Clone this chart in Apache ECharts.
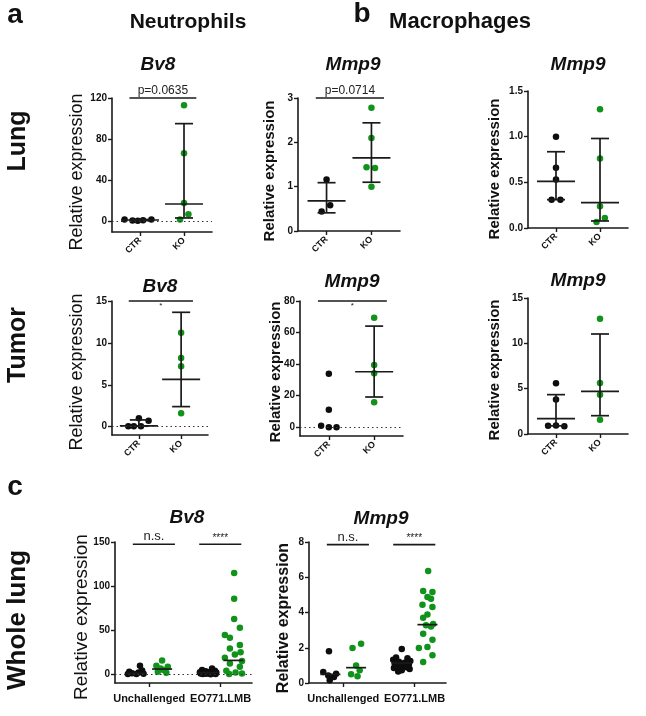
<!DOCTYPE html>
<html><head><meta charset="utf-8">
<script src="https://cdn.jsdelivr.net/npm/echarts@6/dist/echarts.min.js"></script>
<style>html,body{margin:0;padding:0;background:#fff}#c{width:646px;height:716px}</style>
</head><body><div id="c"></div>
<script>
// ---------- categories / tick labels ----------
const catAB = ['CTR', 'KO'];
const catC = ['Unchallenged', 'EO771.LMB'];

// ---------- a: Neutrophils, Lung, Bv8 ----------
const nLungBv8_CTR = [1.5, 0.5, 0.3, 0.8, 1.5];
const nLungBv8_CTR_jit = [-0.35, -0.17, -0.05, 0.07, 0.26];
const nLungBv8_KO = [113, 66, 17.5, 6.5, 1.5];
const nLungBv8_KO_jit = [0, 0, 0, 0.1, -0.09];
const nLungBv8_CTR_err = [1.0, 0.4, 1.5];      // centre, low, high
const nLungBv8_KO_err = [16.6, 3, 95];
const nLungBv8_ticks = [0, 40, 80, 120];
const nLungBv8_range = [-10.7, 120];

// ---------- a: Neutrophils, Lung, Mmp9 ----------
const nLungMmp9_CTR = [1.16, 0.58, 0.44];
const nLungMmp9_CTR_jit = [0, 0.08, -0.11];
const nLungMmp9_KO = [2.78, 2.1, 1.44, 1.42, 1.0];
const nLungMmp9_KO_jit = [0, 0, -0.11, 0.08, 0];
const nLungMmp9_CTR_err = [0.68, 0.41, 1.09];
const nLungMmp9_KO_err = [1.65, 1.1, 2.44];
const nLungMmp9_ticks = [0, 1, 2, 3];
const nLungMmp9_range = [0, 3];

// ---------- b: Macrophages, Lung, Mmp9 ----------
const mLungMmp9_CTR = [1.0, 0.66, 0.53, 0.31, 0.31];
const mLungMmp9_CTR_jit = [0, 0, 0, -0.1, 0.1];
const mLungMmp9_KO = [1.3, 0.76, 0.237, 0.11, 0.066];
const mLungMmp9_KO_jit = [0, 0, 0, 0.11, -0.08];
const mLungMmp9_CTR_err = [0.51, 0.31, 0.835];
const mLungMmp9_KO_err = [0.277, 0.077, 0.98];
const mLungMmp9_ticks = [0, 0.5, 1.0, 1.5];
const mLungMmp9_range = [0, 1.5];

// ---------- a: Neutrophils, Tumor, Bv8 ----------
const nTumBv8_CTR = [0.05, 0.05, 0.05, 1.0, 0.7];
const nTumBv8_CTR_jit = [-0.25, -0.12, 0.05, 0, 0.23];
const nTumBv8_KO = [11.2, 8.2, 7.2, 1.6];
const nTumBv8_KO_jit = [0, 0, 0, 0];
const nTumBv8_CTR_err = [0.1, 0.05, 0.8];
const nTumBv8_KO_err = [5.65, 2.39, 13.65];
const nTumBv8_ticks = [0, 5, 10, 15];
const nTumBv8_range = [-1, 15];

// ---------- a: Neutrophils, Tumor, Mmp9 ----------
const nTumMmp9_CTR = [34, 11.2, 1.0, 0, 0];
const nTumMmp9_CTR_jit = [0, 0, -0.17, 0, 0.17];
const nTumMmp9_KO = [69.4, 39.5, 34.2, 15.8];
const nTumMmp9_KO_jit = [0, 0, 0, 0];
const nTumMmp9_KO_err = [35.2, 19.2, 64.1];
const nTumMmp9_ticks = [0, 20, 40, 60, 80];
const nTumMmp9_range = [-5.5, 80];

// ---------- b: Macrophages, Tumor, Mmp9 ----------
const mTumMmp9_CTR = [5.6, 3.8, 0.9, 0.95, 0.85];
const mTumMmp9_CTR_jit = [0, 0, -0.18, 0, 0.19];
const mTumMmp9_KO = [12.72, 5.63, 4.34, 1.58];
const mTumMmp9_KO_jit = [0, 0, 0, 0];
const mTumMmp9_CTR_err = [1.69, 0.9, 4.34];
const mTumMmp9_KO_err = [4.71, 2.02, 11.03];
const mTumMmp9_ticks = [0, 5, 10, 15];
const mTumMmp9_range = [0, 15];

// ---------- c: Whole lung, Bv8 ----------
const wBv8_UnchCTR = [9.8, 4.5, 3, 2, 1.2, 0.8, 0.5, 0.3];
const wBv8_UnchCTR_jit = [0.05, 0.08, -0.1, 0.03, -0.06, 0.1, -0.12, 0];
const wBv8_UnchKO = [15.8, 9.8, 8.5, 6.5, 4.9, 3, 1.9];
const wBv8_UnchKO_jit = [0, -0.08, 0.08, -0.02, 0.02, -0.06, 0.06];
const wBv8_EOCTR = [6.5, 5, 4, 3.5, 3, 2.5, 2.2, 2, 1.5, 1.2, 1, 0.8, 0.5, 0.3, 0.1];
const wBv8_EOCTR_jit = [0.06, -0.08, 0.1, -0.03, 0.04, -0.11, 0.12, -0.06, 0.02, 0.08, -0.1, -0.02, 0.11, -0.07, 0.04];
const wBv8_EOKO = [115, 85.6, 62.6, 52.8, 44.5, 41.5, 33.2, 29.4, 25, 22.6, 18.8, 15, 12.4, 8.7, 4.1, 2, 1, 0.5];
const wBv8_EOKO_jit = [0.01, 0.01, 0.01, 0.09, -0.12, -0.05, 0.09, -0.05, 0.1, 0.02, -0.12, 0.12, -0.05, 0.09, -0.1, 0.03, 0.12, -0.06];
const wBv8_medians = [1.2, 6, 2, 15.8];
const wBv8_ticks = [0, 50, 100, 150];
const wBv8_range = [-9.8, 150];

// ---------- c: Whole lung, Mmp9 ----------
const wMmp9_UnchCTR = [1.8, 0.62, 0.53, 0.43, 0.34, 0.15];
const wMmp9_UnchCTR_jit = [-0.02, -0.1, 0.08, -0.03, 0.05, -0.01];
const wMmp9_UnchKO = [2.23, 1.98, 1.0, 0.72, 0.49, 0.38];
const wMmp9_UnchKO_jit = [0.07, -0.05, 0, 0.05, -0.07, 0.02];
const wMmp9_EOCTR = [1.93, 1.45, 1.4, 1.32, 1.25, 1.2, 1.15, 1.1, 1.05, 1.0, 0.95, 0.9, 0.85, 0.8, 0.72, 0.65];
const wMmp9_EOCTR_jit = [0, -0.08, 0.08, -0.12, 0.12, -0.04, 0.04, -0.1, 0.1, 0, -0.07, 0.07, -0.11, 0.11, 0, -0.05];
const wMmp9_EOKO = [6.35, 5.22, 5.16, 4.88, 4.78, 4.44, 4.31, 3.89, 3.7, 3.35, 3.27, 3.2, 2.8, 2.46, 2.04, 1.98, 1.57, 1.19];
const wMmp9_EOKO_jit = [0.01, -0.06, 0.07, 0, 0.05, -0.07, 0.07, 0, -0.06, 0.08, -0.02, 0.05, -0.06, 0.07, 0, -0.12, 0.07, -0.06];
const wMmp9_medians = [0.49, 0.87, 1.13, 3.31];
const wMmp9_ticks = [0, 2, 4, 6, 8];
const wMmp9_range = [0, 8];

// group positions on the x scale
const posAB = [0, 1];
const posC = [-0.18, 0.18, 0.82, 1.18];

// ---------- rendering ----------
const FONT = 'Liberation Sans, Arial, sans-serif';
const BLACK = '#0d0d0d', GREEN = '#11921a', AX = '#1a1a1a';

const opt = { animation: false, backgroundColor: '#fff', grid: [], xAxis: [], yAxis: [], series: [], graphic: [] };

function errRender(params, api) {
  const x = api.value(0), c = api.value(1), lo = api.value(2), hi = api.value(3);
  const pc = api.coord([x, c]), pl = api.coord([x, lo]), ph = api.coord([x, hi]);
  const st = { stroke: AX, lineWidth: 1.7 };
  const w1 = 19, w2 = 9;
  return { type: 'group', children: [
    { type: 'line', shape: { x1: pl[0], y1: pl[1], x2: ph[0], y2: ph[1] }, style: st },
    { type: 'line', shape: { x1: pc[0] - w1, y1: pc[1], x2: pc[0] + w1, y2: pc[1] }, style: st },
    { type: 'line', shape: { x1: ph[0] - w2, y1: ph[1], x2: ph[0] + w2, y2: ph[1] }, style: st },
    { type: 'line', shape: { x1: pl[0] - w2, y1: pl[1], x2: pl[0] + w2, y2: pl[1] }, style: st }
  ]};
}
function medRender(params, api) {
  const p = api.coord([api.value(0), api.value(1)]);
  return { type: 'line', shape: { x1: p[0] - 10, y1: p[1], x2: p[0] + 10, y2: p[1] }, style: { stroke: AX, lineWidth: 1.7 } };
}
function bracketRender(text, fs, below) {
  return function (params, api) {
    const a = api.coord([api.value(0), api.value(2)]), b = api.coord([api.value(1), api.value(2)]);
    return { type: 'group', children: [
      { type: 'line', shape: { x1: a[0], y1: a[1], x2: b[0], y2: b[1] }, style: { stroke: AX, lineWidth: 1.6 } },
      { type: 'text', style: { text: text, x: (a[0] + b[0]) / 2, y: below ? a[1] + 1 : a[1] - 1, align: 'center',
          verticalAlign: below ? 'top' : 'bottom', fontFamily: FONT, fontSize: fs, fill: '#222' } }
    ]};
  };
}

function addPanel(p) {
  const i = opt.grid.length;
  opt.grid.push(Object.assign({ containLabel: false }, p.grid));
  opt.xAxis.push({ gridIndex: i, type: 'value', min: p.xr[0], max: p.xr[1],
    axisLine: { show: true, onZero: false, lineStyle: { color: AX, width: 1.6 } },
    axisTick: { show: true, customValues: [0, 1], length: 4, lineStyle: { color: AX, width: 1.4 } },
    axisLabel: { customValues: [0, 1], formatter: v => p.cats[Math.round(v)], rotate: p.rot, margin: p.xm,
      fontFamily: FONT, fontWeight: 'bold', fontSize: p.xfs, color: '#111' },
    splitLine: { show: false } });
  opt.yAxis.push({ gridIndex: i, type: 'value', min: p.yr[0], max: p.yr[1],
    axisLine: { show: true, onZero: false, lineStyle: { color: AX, width: 1.6 } },
    axisTick: { show: true, customValues: p.ticks, length: 4, lineStyle: { color: AX, width: 1.4 } },
    axisLabel: { customValues: p.ticks, formatter: p.fmt || (v => String(v)), margin: 5,
      fontFamily: FONT, fontWeight: 'bold', fontSize: 10, color: '#111' },
    splitLine: { show: false } });
  p.groups.forEach((g, gi) => {
    const s = { type: 'scatter', xAxisIndex: i, yAxisIndex: i, symbolSize: 6.5, z: 2,
      itemStyle: { color: g.color, opacity: 1 }, data: g.vals.map((v, k) => [g.x + g.jit[k], v]) };
    if (p.zero && gi === 0) {
      s.markLine = { silent: true, symbol: ['none', 'none'], label: { show: false },
        lineStyle: { type: [1.5, 3], color: '#333', width: 1.1 }, data: [{ yAxis: 0 }] };
    }
    opt.series.push(s);
    if (g.err) opt.series.push({ type: 'custom', xAxisIndex: i, yAxisIndex: i, z: 3, clip: false,
      encode: { x: 0, y: [1, 2, 3] }, data: [[g.x].concat(g.err)], renderItem: errRender });
    if (g.med != null) opt.series.push({ type: 'custom', xAxisIndex: i, yAxisIndex: i, z: 3, clip: false,
      encode: { x: 0, y: 1 }, data: [[g.x, g.med]], renderItem: medRender });
  });
  p.brackets.forEach(b => {
    opt.series.push({ type: 'custom', xAxisIndex: i, yAxisIndex: i, z: 3, clip: false,
      encode: { x: [0, 1], y: 2 }, data: [[b.x1, b.x2, b.y]], renderItem: bracketRender(b.text, b.fs, b.below) });
  });
}

const xrAB = [-0.636, 1.636], xrC = [-0.48, 1.44];
const f1 = v => v.toFixed(1);

addPanel({ grid: { left: 112, top: 98, width: 100, height: 134 }, xr: xrAB, cats: catAB, rot: 45, xm: 7, xfs: 9,
  yr: nLungBv8_range, ticks: nLungBv8_ticks, zero: true,
  groups: [
    { x: posAB[0], vals: nLungBv8_CTR, jit: nLungBv8_CTR_jit, color: BLACK, err: nLungBv8_CTR_err },
    { x: posAB[1], vals: nLungBv8_KO, jit: nLungBv8_KO_jit, color: GREEN, err: nLungBv8_KO_err }],
  brackets: [{ x1: -0.24, x2: 1.28, y: 120, text: 'p=0.0635', fs: 12 }] });

addPanel({ grid: { left: 298, top: 98, width: 102, height: 133 }, xr: xrAB, cats: catAB, rot: 45, xm: 7, xfs: 9,
  yr: nLungMmp9_range, ticks: nLungMmp9_ticks,
  groups: [
    { x: posAB[0], vals: nLungMmp9_CTR, jit: nLungMmp9_CTR_jit, color: BLACK, err: nLungMmp9_CTR_err },
    { x: posAB[1], vals: nLungMmp9_KO, jit: nLungMmp9_KO_jit, color: GREEN, err: nLungMmp9_KO_err }],
  brackets: [{ x1: -0.24, x2: 1.28, y: 3, text: 'p=0.0714', fs: 12 }] });

addPanel({ grid: { left: 528, top: 91, width: 100, height: 137 }, xr: xrAB, cats: catAB, rot: 45, xm: 7, xfs: 9,
  yr: mLungMmp9_range, ticks: mLungMmp9_ticks, fmt: f1,
  groups: [
    { x: posAB[0], vals: mLungMmp9_CTR, jit: mLungMmp9_CTR_jit, color: BLACK, err: mLungMmp9_CTR_err },
    { x: posAB[1], vals: mLungMmp9_KO, jit: mLungMmp9_KO_jit, color: GREEN, err: mLungMmp9_KO_err }],
  brackets: [] });

addPanel({ grid: { left: 112, top: 301, width: 96, height: 134 }, xr: xrAB, cats: catAB, rot: 45, xm: 7, xfs: 9,
  yr: nTumBv8_range, ticks: nTumBv8_ticks, zero: true,
  groups: [
    { x: posAB[0], vals: nTumBv8_CTR, jit: nTumBv8_CTR_jit, color: BLACK, err: nTumBv8_CTR_err },
    { x: posAB[1], vals: nTumBv8_KO, jit: nTumBv8_KO_jit, color: GREEN, err: nTumBv8_KO_err }],
  brackets: [{ x1: -0.24, x2: 1.28, y: 15, text: '*', fs: 8, below: true }] });

addPanel({ grid: { left: 300, top: 301, width: 103, height: 135 }, xr: xrAB, cats: catAB, rot: 45, xm: 7, xfs: 9,
  yr: nTumMmp9_range, ticks: nTumMmp9_ticks, zero: true,
  groups: [
    { x: posAB[0], vals: nTumMmp9_CTR, jit: nTumMmp9_CTR_jit, color: BLACK },
    { x: posAB[1], vals: nTumMmp9_KO, jit: nTumMmp9_KO_jit, color: GREEN, err: nTumMmp9_KO_err }],
  brackets: [{ x1: -0.24, x2: 1.28, y: 80, text: '*', fs: 8, below: true }] });

addPanel({ grid: { left: 528, top: 298, width: 100, height: 136 }, xr: xrAB, cats: catAB, rot: 45, xm: 7, xfs: 9,
  yr: mTumMmp9_range, ticks: mTumMmp9_ticks,
  groups: [
    { x: posAB[0], vals: mTumMmp9_CTR, jit: mTumMmp9_CTR_jit, color: BLACK, err: mTumMmp9_CTR_err },
    { x: posAB[1], vals: mTumMmp9_KO, jit: mTumMmp9_KO_jit, color: GREEN, err: mTumMmp9_KO_err }],
  brackets: [] });

addPanel({ grid: { left: 115, top: 542, width: 137, height: 141 }, xr: xrC, cats: catC, rot: 0, xm: 10, xfs: 11,
  yr: wBv8_range, ticks: wBv8_ticks, zero: true,
  groups: [
    { x: posC[0], vals: wBv8_UnchCTR, jit: wBv8_UnchCTR_jit, color: BLACK, med: wBv8_medians[0] },
    { x: posC[1], vals: wBv8_UnchKO, jit: wBv8_UnchKO_jit, color: GREEN, med: wBv8_medians[1] },
    { x: posC[2], vals: wBv8_EOCTR, jit: wBv8_EOCTR_jit, color: BLACK, med: wBv8_medians[2] },
    { x: posC[3], vals: wBv8_EOKO, jit: wBv8_EOKO_jit, color: GREEN, med: wBv8_medians[3] }],
  brackets: [{ x1: -0.23, x2: 0.36, y: 147.5, text: 'n.s.', fs: 13 }, { x1: 0.7, x2: 1.29, y: 147.5, text: '****', fs: 10 }] });

addPanel({ grid: { left: 309, top: 542, width: 137, height: 141 }, xr: xrC, cats: catC, rot: 0, xm: 10, xfs: 11,
  yr: wMmp9_range, ticks: wMmp9_ticks,
  groups: [
    { x: posC[0], vals: wMmp9_UnchCTR, jit: wMmp9_UnchCTR_jit, color: BLACK, med: wMmp9_medians[0] },
    { x: posC[1], vals: wMmp9_UnchKO, jit: wMmp9_UnchKO_jit, color: GREEN, med: wMmp9_medians[1] },
    { x: posC[2], vals: wMmp9_EOCTR, jit: wMmp9_EOCTR_jit, color: BLACK, med: wMmp9_medians[2] },
    { x: posC[3], vals: wMmp9_EOKO, jit: wMmp9_EOKO_jit, color: GREEN, med: wMmp9_medians[3] }],
  brackets: [{ x1: -0.23, x2: 0.36, y: 7.85, text: 'n.s.', fs: 13 }, { x1: 0.7, x2: 1.29, y: 7.85, text: '****', fs: 10 }] });

// ---------- text labels ----------
function txt(t, x, y, fs, weight, style, rot) {
  opt.graphic.push({ type: 'text', x: x, y: y, rotation: rot || 0, silent: true,
    style: { text: t, align: 'center', verticalAlign: 'middle', fontFamily: FONT, fontSize: fs,
      fontWeight: weight || 'normal', fontStyle: style || 'normal', fill: '#111' } });
}
const R = Math.PI / 2;
txt('a', 15, 15, 28, 'bold');
txt('Neutrophils', 188, 22, 21, 'bold');
txt('b', 362, 14, 28, 'bold');
txt('Macrophages', 460, 22, 22, 'bold');
txt('c', 15, 487, 28, 'bold');
txt('Lung', 18, 141, 25, 'bold', 'normal', R);
txt('Tumor', 18, 345, 25, 'bold', 'normal', R);
txt('Whole lung', 18, 620, 26, 'bold', 'normal', R);

txt('Bv8', 158, 65, 19, 'bold', 'italic');
txt('Mmp9', 353, 65, 19, 'bold', 'italic');
txt('Mmp9', 578, 65, 19, 'bold', 'italic');
txt('Bv8', 160, 287, 19, 'bold', 'italic');
txt('Mmp9', 352, 282, 19, 'bold', 'italic');
txt('Mmp9', 578, 281, 19, 'bold', 'italic');
txt('Bv8', 187, 518, 19, 'bold', 'italic');
txt('Mmp9', 381, 519, 19, 'bold', 'italic');

txt('Relative expression', 77.5, 172, 18, 'normal', 'normal', R);
txt('Relative expression', 77.5, 372, 18, 'normal', 'normal', R);
txt('Relative expression', 81.5, 617, 19, 'normal', 'normal', R);
txt('Relative expression', 270, 171, 15, 'bold', 'normal', R);
txt('Relative expression', 495, 169, 15, 'bold', 'normal', R);
txt('Relative expression', 276, 372, 15, 'bold', 'normal', R);
txt('Relative expression', 495, 370, 15, 'bold', 'normal', R);
txt('Relative expression', 284, 618, 16, 'bold', 'normal', R);

const chart = echarts.init(document.getElementById('c'), null, { renderer: 'canvas' });
chart.setOption(opt);
</script></body></html>
